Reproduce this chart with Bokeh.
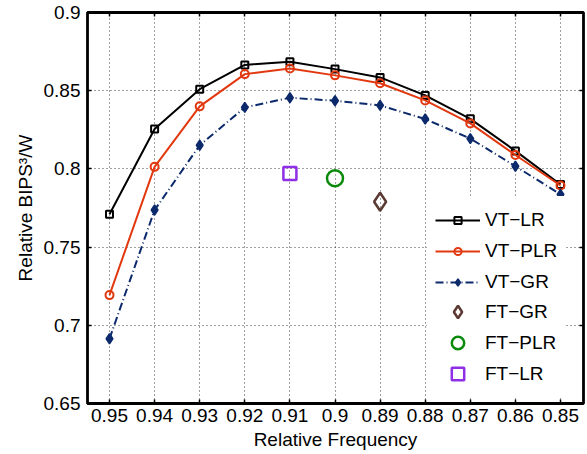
from bokeh.embed import file_html
from bokeh.models import (FixedTicker, Legend, LegendItem, LinearAxis,
                          NumeralTickFormatter, Range1d, Title)
from bokeh.plotting import figure
from bokeh.resources import INLINE

# Relative frequency steps (x axis runs from high to low)
freq = [0.95, 0.94, 0.93, 0.92, 0.91, 0.90, 0.89, 0.88, 0.87, 0.86, 0.85]
freq_labels = ["0.95", "0.94", "0.93", "0.92", "0.91", "0.9",
               "0.89", "0.88", "0.87", "0.86", "0.85"]

# Relative BIPS^3/W for variable-threshold schemes
vt_lr = [0.771, 0.8255, 0.851, 0.8665, 0.8685, 0.8638, 0.8585, 0.847, 0.832, 0.8115, 0.790]
vt_plr = [0.7193, 0.8013, 0.840, 0.8606, 0.8642, 0.8598, 0.8548, 0.8438, 0.8291, 0.8089, 0.7894]
vt_gr = [0.6914, 0.7737, 0.8151, 0.8393, 0.8455, 0.8436, 0.8406, 0.8319, 0.8194, 0.8017, 0.7837]

# Fixed-threshold schemes: one operating point each
ft_gr_freq = [0.89]
ft_gr = [0.779]
ft_plr_freq = [0.90]
ft_plr = [0.794]
ft_lr_freq = [0.91]
ft_lr = [0.797]

y_ticks = [0.65, 0.70, 0.75, 0.80, 0.85, 0.90]
y_labels = ["0.65", "0.7", "0.75", "0.8", "0.85", "0.9"]

FONT = "Liberation Sans"
FS = "19px"

p = figure(width=587, height=454, output_backend="svg", toolbar_location=None,
           x_range=Range1d(0.95488, 0.8449), y_range=Range1d(0.65, 0.90),
           min_border_left=87, min_border_right=4, min_border_top=12,
           min_border_bottom=51, background_fill_color="white",
           border_fill_color="white")

p.outline_line_color = "black"
p.outline_line_width = 2.8
p.outline_line_alpha = 1

xa = p.xaxis[0]
xa.ticker = FixedTicker(ticks=freq)
xa.formatter = NumeralTickFormatter(format="0.0[0]")
xa.major_label_overrides = dict(zip(freq, freq_labels))
xa.axis_label = "Relative Frequency"
ya = p.yaxis[0]
ya.ticker = FixedTicker(ticks=y_ticks)
ya.formatter = NumeralTickFormatter(format="0.0[0]")
ya.major_label_overrides = dict(zip(y_ticks, y_labels))

for ax in (xa, ya):
    ax.axis_line_color = None
    ax.major_tick_in = 4
    ax.major_tick_out = 0
    ax.major_tick_line_color = "black"
    ax.major_tick_line_width = 1.5
    ax.minor_tick_line_color = None
    ax.major_label_text_font = FONT
    ax.major_label_text_font_size = FS
    ax.major_label_text_color = "black"
    ax.axis_label_text_font = FONT
    ax.axis_label_text_font_size = FS
    ax.axis_label_text_font_style = "normal"
    ax.axis_label_text_color = "black"
xa.major_label_standoff = 5
xa.axis_label_standoff = 4
ya.major_label_standoff = 7

# mirrored ticks on top and right, without labels
top = LinearAxis(ticker=FixedTicker(ticks=freq),
                 major_label_overrides={t: "" for t in freq})
right = LinearAxis(ticker=FixedTicker(ticks=y_ticks),
                   major_label_overrides={t: "" for t in y_ticks})
for ax in (top, right):
    ax.axis_line_color = None
    ax.major_tick_in = 4
    ax.major_tick_out = 0
    ax.major_tick_line_color = "black"
    ax.major_tick_line_width = 1.5
    ax.minor_tick_line_color = None
    ax.major_label_standoff = 0
p.add_layout(top, "above")
p.add_layout(right, "right")

# dotted grid
for g in (p.xgrid[0], p.ygrid[0]):
    g.grid_line_color = "black"
    g.grid_line_alpha = 0.75
    g.grid_line_dash = "1 3"
    g.grid_line_width = 1
p.xgrid[0].ticker = FixedTicker(ticks=freq)
p.ygrid[0].ticker = FixedTicker(ticks=y_ticks)

RED = "#e2380f"
NAVY = "#0c2a6b"

l1 = p.line(freq, vt_lr, line_color="black", line_width=2)
m1 = p.scatter(freq, vt_lr, marker="square", size=7, line_color="black",
               line_width=2, fill_color=None)
l2 = p.line(freq, vt_plr, line_color=RED, line_width=2)
m2 = p.scatter(freq, vt_plr, marker="circle", size=8, line_color=RED,
               line_width=2, fill_color=None)
l3 = p.line(freq, vt_gr, line_color=NAVY, line_width=2, line_dash="8 3 1 3")
m3 = p.scatter(freq, vt_gr, marker="diamond", size=10, line_color=NAVY,
               line_width=1.5, fill_color=NAVY)

f1 = p.scatter(ft_gr_freq, ft_gr, marker="diamond", size=18, line_color="#5b3a33",
               line_width=2.5, fill_color=None)
f2 = p.scatter(ft_plr_freq, ft_plr, marker="circle", size=16, line_color="#0a8a0a",
               line_width=2.5, fill_color=None)
f3 = p.scatter(ft_lr_freq, ft_lr, marker="square", size=13, line_color="#8e2ee6",
               line_width=2.5, fill_color=None)


def make_legend(items, glyph_h, loc):
    leg = Legend(items=items, location=loc)
    leg.label_text_font = FONT
    leg.label_text_font_size = FS
    leg.label_text_color = "black"
    leg.glyph_width = 45
    leg.glyph_height = glyph_h
    leg.label_height = 31
    leg.label_standoff = 5
    leg.padding = 8
    leg.spacing = 0
    leg.margin = 0
    leg.border_line_alpha = 0
    leg.background_fill_color = "white"
    leg.background_fill_alpha = 1
    return leg


leg_vt = make_legend([
    LegendItem(label="VT\u2212LR", renderers=[l1, m1]),
    LegendItem(label="VT\u2212PLR", renderers=[l2, m2]),
    LegendItem(label="VT\u2212GR", renderers=[l3, m3]),
], 18, (340, 98))
leg_ft = make_legend([
    LegendItem(label="FT\u2212GR", renderers=[f1]),
    LegendItem(label="FT\u2212PLR", renderers=[f2]),
    LegendItem(label="FT\u2212LR", renderers=[f3]),
], 31, (340, 6))
p.add_layout(leg_ft)
p.add_layout(leg_vt)

# y axis title, set a little above centre
ytitle = Title(text="Relative BIPS\u00b3/W", align="center", offset=34,
               text_font=FONT, text_font_size=FS, text_font_style="normal",
               text_color="black", standoff=9)
p.add_layout(ytitle, "left")

open("out.html", "w").write(file_html(p, INLINE))
